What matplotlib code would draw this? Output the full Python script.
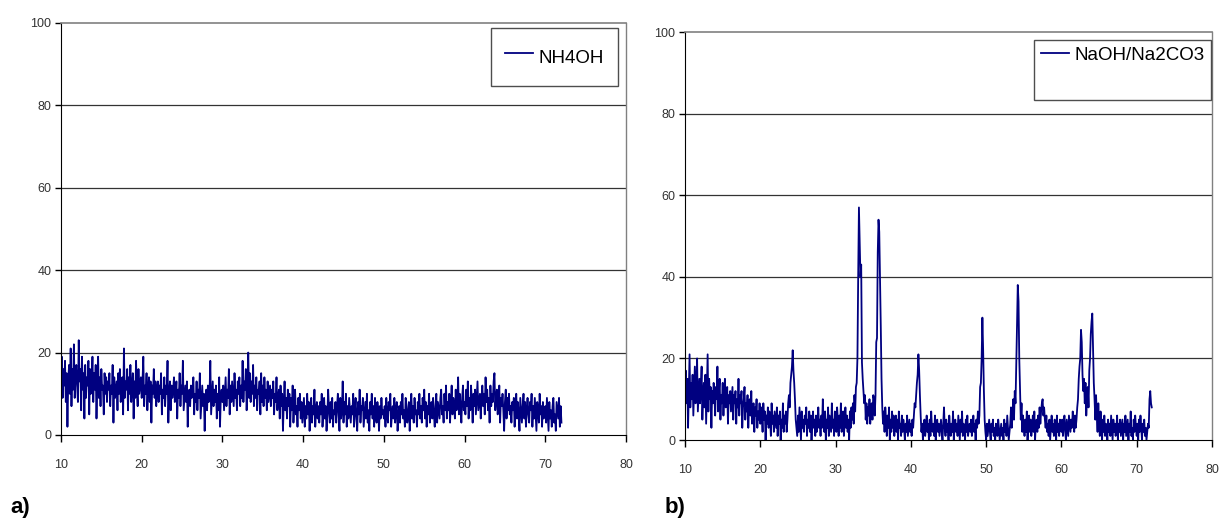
import numpy as np
import matplotlib.pyplot as plt

plt.rcParams['font.family'] = ['Liberation Sans', 'DejaVu Sans']

# intensity readings, 0.1 deg steps, one list per 10 deg of 2-theta
nh4oh_10 = [14, 19, 9, 16, 12, 18, 8, 15, 2, 13, 17, 10, 21, 7, 16, 11, 22, 9, 14, 17,
            12, 8, 23, 13, 16, 6, 19, 11, 15, 4, 17, 9, 14, 12, 18, 5, 16, 10, 13, 19,
            8, 15, 11, 17, 4, 13, 19, 9, 14, 7, 16, 11, 12, 5, 15, 10, 14, 8, 13, 11,
            15, 7, 12, 10, 17, 3, 14, 9, 11, 13, 6, 15, 10, 16, 8, 12, 14, 5, 21, 9,
            13, 11, 16, 6, 14, 10, 17, 8, 12, 15, 4, 13, 9, 18, 11, 7, 16, 10, 12, 14]
nh4oh_20 = [9, 13, 19, 7, 12, 10, 15, 6, 11, 14, 8, 13, 3, 12, 10, 16, 9, 13, 7, 11,
            13, 8, 12, 10, 15, 5, 11, 9, 14, 7, 12, 10, 18, 3, 10, 13, 6, 12, 9, 11,
            14, 8, 10, 13, 4, 11, 9, 15, 7, 12, 10, 18, 6, 9, 12, 8, 13, 2, 10, 11,
            7, 12, 9, 11, 14, 5, 10, 8, 13, 6, 11, 9, 15, 4, 8, 12, 7, 10, 1, 9,
            11, 6, 12, 8, 10, 18, 5, 9, 13, 7, 11, 8, 12, 4, 10, 6, 14, 2, 9, 11]
nh4oh_30 = [8, 12, 6, 10, 14, 7, 11, 9, 16, 5, 12, 8, 13, 10, 7, 15, 9, 11, 6, 13,
            10, 14, 7, 12, 9, 18, 8, 13, 11, 16, 6, 12, 20, 9, 15, 8, 13, 10, 17, 7,
            12, 9, 14, 6, 11, 10, 13, 5, 15, 8, 12, 7, 14, 9, 11, 6, 13, 8, 10, 12,
            7, 11, 9, 13, 5, 10, 8, 14, 6, 9, 11, 4, 12, 7, 10, 1, 8, 13, 6, 9,
            4, 11, 7, 10, 2, 9, 6, 12, 3, 8, 11, 5, 7, 2, 9, 6, 10, 4, 8, 3]
nh4oh_40 = [6, 9, 2, 7, 4, 10, 5, 8, 1, 6, 9, 3, 7, 5, 11, 2, 6, 8, 4, 7,
            3, 8, 5, 10, 2, 6, 9, 4, 7, 1, 5, 11, 6, 3, 8, 4, 9, 2, 6, 5,
            8, 3, 7, 10, 5, 1, 9, 4, 6, 13, 3, 8, 5, 10, 2, 7, 4, 9, 6, 3,
            7, 5, 10, 2, 6, 9, 4, 1, 8, 5, 11, 3, 7, 6, 9, 2, 5, 8, 4, 10,
            3, 6, 1, 8, 5, 10, 4, 7, 2, 9, 5, 3, 8, 6, 1, 7, 4, 9, 5, 6]
nh4oh_50 = [4, 7, 2, 9, 5, 3, 8, 6, 10, 2, 5, 7, 4, 9, 3, 6, 8, 1, 5, 7,
            3, 8, 5, 10, 4, 6, 2, 9, 7, 3, 5, 8, 1, 6, 10, 4, 7, 3, 9, 5,
            6, 2, 8, 5, 10, 4, 7, 3, 9, 6, 11, 4, 8, 2, 7, 5, 10, 3, 6, 8,
            4, 9, 5, 2, 7, 10, 3, 8, 6, 4, 9, 11, 5, 7, 3, 10, 6, 12, 4, 8,
            6, 10, 3, 8, 12, 5, 9, 7, 4, 11, 6, 8, 14, 5, 10, 7, 3, 9, 12, 6]
nh4oh_60 = [8, 5, 11, 7, 13, 4, 9, 6, 12, 8, 3, 10, 7, 11, 5, 9, 13, 6, 8, 10,
            4, 9, 12, 7, 10, 5, 14, 8, 11, 6, 9, 3, 12, 7, 10, 8, 13, 15, 6, 9,
            11, 5, 8, 12, 3, 9, 7, 10, 6, 1, 8, 11, 4, 9, 6, 10, 5, 7, 3, 8,
            6, 9, 2, 7, 10, 4, 8, 5, 1, 9, 6, 3, 7, 10, 4, 8, 2, 6, 9, 5,
            3, 8, 6, 10, 2, 7, 4, 9, 5, 1, 8, 6, 3, 10, 5, 7, 2, 8, 4, 6]
nh4oh_70 = [7, 3, 9, 5, 1, 8, 4, 6, 2, 7, 9, 3, 5, 1, 8, 6, 4, 9, 2, 7, 3]

naoh_10 = [13, 17, 9, 15, 3, 12, 21, 8, 14, 10, 16, 6, 12, 18, 9, 13, 20, 7, 11, 15,
           9, 13, 18, 5, 11, 14, 8, 16, 4, 12, 21, 7, 15, 10, 13, 3, 12, 9, 14, 11,
           6, 13, 10, 18, 7, 12, 15, 5, 11, 9, 14, 6, 12, 15, 8, 10, 13, 4, 11, 9,
           12, 7, 10, 13, 5, 11, 9, 12, 4, 10, 8, 15, 6, 11, 9, 12, 3, 8, 10, 13,
           5, 9, 7, 11, 3, 8, 10, 6, 12, 4, 7, 9, 2, 8, 6, 10, 3, 7, 5, 9]
naoh_20 = [4, 8, 6, 2, 9, 5, 7, 0, 6, 4, 8, 3, 7, 5, 1, 9, 4, 6, 2, 7,
           5, 3, 8, 1, 6, 4, 7, 0, 5, 3, 9, 2, 6, 4, 7, 2, 5, 9, 11, 8,
           14, 16, 18, 22, 17, 14, 10, 5, 3, 1, 6, 2, 8, 4, 0, 7, 3, 5, 2, 6,
           4, 8, 1, 5, 3, 7, 2, 6, 0, 4, 7, 3, 5, 1, 6, 2, 4, 8, 3, 5,
           1, 6, 3, 10, 4, 2, 7, 0, 5, 3, 8, 1, 6, 4, 2, 9, 3, 5, 1, 7]
naoh_30 = [4, 2, 8, 5, 1, 6, 3, 9, 2, 5, 7, 1, 4, 8, 3, 6, 2, 5, 0, 7,
           3, 8, 5, 9, 4, 11, 7, 13, 14, 20, 40, 57, 49, 40, 43, 19, 15, 12, 9, 11,
           5, 9, 4, 8, 6, 10, 4, 7, 9, 5, 11, 10, 6, 11, 24, 25, 46, 54, 51, 40,
           28, 15, 8, 4, 7, 2, 8, 5, 1, 6, 3, 8, 0, 5, 2, 7, 3, 6, 1, 4,
           6, 2, 5, 0, 7, 3, 4, 1, 6, 2, 5, 3, 0, 4, 2, 6, 1, 3, 5, 2]
naoh_40 = [4, 1, 5, 3, 6, 9, 8, 11, 14, 16, 21, 17, 11, 6, 2, 4, 0, 3, 5, 1,
           3, 6, 2, 4, 0, 5, 1, 7, 3, 2, 4, 1, 6, 0, 3, 5, 2, 4, 1, 3,
           5, 2, 0, 4, 8, 3, 1, 5, 2, 4, 0, 6, 3, 1, 4, 2, 7, 0, 3, 5,
           2, 4, 1, 6, 3, 0, 5, 2, 7, 1, 4, 3, 0, 5, 2, 6, 1, 3, 4, 2,
           5, 1, 3, 6, 2, 4, 0, 5, 3, 7, 4, 6, 13, 14, 20, 30, 22, 12, 5, 2]
naoh_50 = [0, 4, 1, 3, 5, 2, 0, 4, 2, 5, 1, 3, 0, 4, 2, 1, 5, 3, 0, 2,
           4, 1, 3, 0, 5, 2, 4, 1, 6, 3, 0, 2, 4, 8, 3, 6, 10, 5, 12, 9,
           18, 28, 38, 34, 20, 12, 5, 9, 2, 6, 3, 1, 5, 2, 7, 0, 4, 6, 2, 5,
           1, 3, 6, 2, 7, 0, 4, 5, 2, 6, 3, 8, 4, 7, 9, 10, 6, 8, 5, 3,
           6, 2, 4, 1, 5, 0, 3, 6, 2, 4, 1, 5, 3, 0, 6, 2, 4, 1, 5, 3]
naoh_60 = [2, 5, 1, 4, 6, 2, 0, 5, 3, 1, 6, 4, 2, 5, 3, 7, 4, 2, 6, 3,
           5, 8, 10, 15, 18, 20, 27, 24, 16, 12, 15, 9, 14, 6, 10, 13, 8, 17, 20, 26,
           29, 31, 22, 14, 10, 5, 11, 6, 2, 9, 4, 1, 7, 3, 0, 5, 2, 6, 1, 4,
           3, 0, 5, 2, 4, 1, 6, 3, 0, 5, 2, 4, 1, 3, 6, 0, 4, 2, 5, 1,
           3, 5, 0, 4, 2, 6, 1, 3, 5, 0, 4, 2, 7, 1, 3, 0, 5, 2, 6, 3]
naoh_70 = [1, 4, 0, 5, 2, 6, 3, 0, 4, 2, 5, 1, 3, 0, 2, 4, 3, 10, 12, 9, 8]


def join(segs):
    xs, ys = [], []
    for start, seg in zip(range(10, 80, 10), segs):
        xs.append(start + 0.1 * np.arange(len(seg)))
        ys.append(np.array(seg, dtype=float))
    return np.concatenate(xs), np.concatenate(ys)


xa, ya = join([nh4oh_10, nh4oh_20, nh4oh_30, nh4oh_40, nh4oh_50, nh4oh_60, nh4oh_70])
xb, yb = join([naoh_10, naoh_20, naoh_30, naoh_40, naoh_50, naoh_60, naoh_70])

fig = plt.figure(figsize=(12.22, 5.2), dpi=100)
ax1 = fig.add_axes([0.0499, 0.1635, 0.4624, 0.7923])
ax2 = fig.add_axes([0.5606, 0.1538, 0.4312, 0.7846])


def style(ax):
    ax.set_xlim(10, 80)
    ax.set_ylim(0, 100)
    ax.set_xticks(range(10, 81, 10))
    ax.set_yticks(range(0, 101, 20))
    for v in (20, 40, 60, 80):
        ax.axhline(v, color='#333333', lw=0.9, zorder=0)
    ax.spines['top'].set_color('#808080')
    ax.spines['right'].set_color('#808080')
    ax.spines['top'].set_linewidth(1.2)
    ax.spines['right'].set_linewidth(1.0)
    ax.spines['left'].set_color('black')
    ax.spines['bottom'].set_color('black')
    ax.tick_params(axis='both', direction='out', length=4, width=1,
                   labelsize=9, labelcolor='#333333', pad=3)
    ax.tick_params(axis='x', length=5, pad=12)


style(ax1)
style(ax2)

line_a, = ax1.plot(xa, ya, color='#000080', lw=1.3)
line_b, = ax2.plot(xb, yb, color='#000080', lw=1.3)

leg1 = ax1.legend([line_a], ['NH4OH'], loc='upper right',
                  bbox_to_anchor=(618 / 1222, 1 - 28 / 520),
                  bbox_transform=fig.transFigure, fontsize=13.5, frameon=True,
                  fancybox=False, edgecolor='#222222', borderpad=0.75,
                  handlelength=1.5, handletextpad=0.3, handleheight=2.1,
                  borderaxespad=0)
leg1.get_frame().set_linewidth(1.0)

blank, = ax2.plot([], [], color='none')
leg2 = ax2.legend([line_b, blank], ['NaOH/Na2CO3', ' '], loc='upper right',
                  bbox_to_anchor=(1211 / 1222, 1 - 40 / 520),
                  bbox_transform=fig.transFigure, fontsize=13.5, frameon=True,
                  fancybox=False, edgecolor='#222222', borderpad=0.35,
                  handlelength=1.5, handletextpad=0.3, borderaxespad=0,
                  labelspacing=0.65)
leg2.get_frame().set_linewidth(1.0)

fig.text(10 / 1222, 1 - 518 / 520, 'a)', fontsize=16, fontweight='bold', va='bottom')
fig.text(665 / 1222, 1 - 518 / 520, 'b)', fontsize=16, fontweight='bold', va='bottom')

fig.savefig('out.png', dpi=100)
